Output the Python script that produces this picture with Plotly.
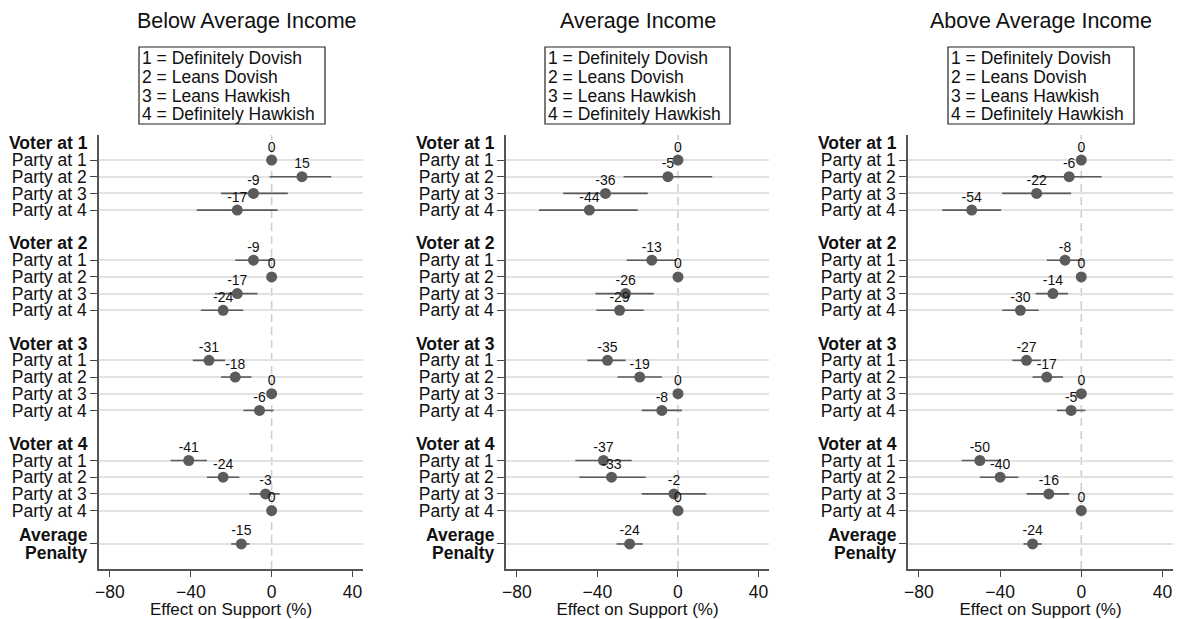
import plotly.graph_objects as go

# ---------------- data ----------------
panel_titles = ["Below Average Income", "Average Income", "Above Average Income"]
group_headers = ["Voter at 1", "Voter at 2", "Voter at 3", "Voter at 4"]
party_labels = ["Party at 1", "Party at 2", "Party at 3", "Party at 4"]
avg_label_lines = ["Average", "Penalty"]
key_lines = ["1 = Definitely Dovish", "2 = Leans Dovish", "3 = Leans Hawkish", "4 = Definitely Hawkish"]
x_ticks = [-80, -40, 0, 40]
x_title = "Effect on Support (%)"

# rows: V1P1..V1P4, V2P1..V2P4, V3P1..V3P4, V4P1..V4P4, Average
est_below = [0, 15, -9, -17, -9, 0, -17, -24, -31, -18, 0, -6, -41, -24, -3, 0, -15]
lo_below = [None, -1, -25, -37, -18, None, -28, -35, -39, -25, None, -14, -50, -32, -11, None, -20]
hi_below = [None, 29.5, 8, 3, 0.5, None, -7, -14, -23, -10, None, 1, -32, -16, 4, None, -11]

est_avg = [0, -5, -36, -44, -13, 0, -26, -29, -35, -19, 0, -8, -37, -33, -2, 0, -24]
lo_avg = [None, -27, -57, -69, -25.5, None, -41, -40.5, -45, -30, None, -18, -51, -49, -18, None, -30.5]
hi_avg = [None, 17, -15, -20, -0.5, None, -12, -17, -26, -8, None, 2, -23, -16, 14, None, -17.5]

est_above = [0, -6, -22, -54, -8, 0, -14, -30, -27, -17, 0, -5, -50, -40, -16, 0, -24]
lo_above = [None, -24, -39, -68.5, -17, None, -22.5, -39, -34, -24, None, -12, -59, -50, -27, None, -28.5]
hi_above = [None, 10, -5, -39.5, 1, None, -6.5, -21, -20, -9, None, 2, -40, -31, -6, None, -19.5]

panels = [(est_below, lo_below, hi_below), (est_avg, lo_avg, hi_avg), (est_above, lo_above, hi_above)]

# ---------------- layout helpers ----------------
W, H = 1180, 619
FONT = "Liberation Sans, Arial, Helvetica, sans-serif"
GRAY = "#5b5b5b"
LABEL_LIFT = 0.72  # label offset above marker, in row units

header_pos = [0, 6, 12, 18]
row_pos = []
for g in header_pos:
    row_pos += [g + 1, g + 2, g + 3, g + 4]
avg_pos = 24
row_pos.append(avg_pos)
tick_text = party_labels * 4 + [""]

x_domains = [(99, 363), (506, 769), (908, 1173)]
title_cx = [247, 637.5, 1041]
box_x = [(139, 325), (545, 730), (948, 1134)]
y_dom = (1 - 569 / H, 1 - 135 / H)

fig = go.Figure()
annotations = []
shapes = []

for i, (est, lo, hi) in enumerate(panels):
    sfx = "" if i == 0 else str(i + 1)
    xa, ya = "x" + sfx, "y" + sfx
    plus = [0 if h is None else h - e for e, h in zip(est, hi)]
    minus = [0 if l is None else e - l for e, l in zip(est, lo)]
    fig.add_trace(go.Scatter(
        x=est, y=row_pos, xaxis=xa, yaxis=ya, mode="markers",
        marker=dict(size=11, color=GRAY),
        error_x=dict(type="data", symmetric=False, array=plus, arrayminus=minus,
                     width=0, thickness=1.6, color=GRAY),
        cliponaxis=False, showlegend=False, hoverinfo="skip",
    ))
    fig.add_trace(go.Scatter(
        x=est, y=[r - LABEL_LIFT for r in row_pos], xaxis=xa, yaxis=ya, mode="text",
        text=[str(v) for v in est], textposition="middle center",
        textfont=dict(size=14, color="#111", family=FONT),
        cliponaxis=False, showlegend=False, hoverinfo="skip",
    ))
    d0, d1 = x_domains[i]
    fig.layout["xaxis" + sfx] = dict(
        domain=[d0 / W, d1 / W], anchor=ya, range=[-85.4, 45.2],
        tickvals=x_ticks, ticks="outside", ticklen=6, tickwidth=1.3, tickcolor="#444",
        showgrid=False, zeroline=False, showline=True, linecolor="#555", linewidth=1.6,
        tickfont=dict(size=17.5, family=FONT, color="#111"),
        title=dict(text=x_title, font=dict(size=17, family=FONT, color="#111"), standoff=2),
        automargin=False, fixedrange=True,
    )
    fig.layout["yaxis" + sfx] = dict(
        domain=list(y_dom), anchor=xa, range=[25.5, -0.5],
        tickvals=row_pos, ticktext=tick_text, ticks="outside", ticklen=7,
        tickwidth=1.3, tickcolor="#444",
        showgrid=True, gridcolor="#e2e2e2", gridwidth=1.5,
        zeroline=False, showline=True, linecolor="#555", linewidth=1.6,
        tickfont=dict(size=17.5, family=FONT, color="#111"),
        automargin=False, fixedrange=True,
    )
    # dashed reference line at zero
    shapes.append(dict(type="line", xref=xa, yref=ya + " domain", x0=0, x1=0, y0=0, y1=1,
                       line=dict(color="#cfcfcf", width=1.6, dash="8px,5px"), layer="below"))
    # group headers
    for g, txt in zip(header_pos, group_headers):
        annotations.append(dict(text="<b>" + txt + "</b>", xref=xa + " domain", yref=ya,
                                x=0, y=g, xanchor="right", yanchor="middle", xshift=-9,
                                showarrow=False, font=dict(size=17.5, family=FONT, color="#111")))
    # average penalty label (two tight lines)
    for k, txt in enumerate(avg_label_lines):
        annotations.append(dict(text="<b>" + txt + "</b>", xref=xa + " domain", yref=ya,
                                x=0, y=avg_pos, xanchor="right", yanchor="middle", xshift=-9,
                                yshift=9 - 18 * k, showarrow=False,
                                font=dict(size=17.5, family=FONT, color="#111")))
    # panel title
    annotations.append(dict(text=panel_titles[i], xref="paper", yref="paper",
                            x=title_cx[i] / W, y=1 - 21 / H, xanchor="center", yanchor="middle",
                            showarrow=False, font=dict(size=21.5, family=FONT, color="#111")))
    # key box
    bx0, bx1 = box_x[i]
    shapes.append(dict(type="rect", xref="paper", yref="paper",
                       x0=bx0 / W, x1=bx1 / W, y0=1 - 124 / H, y1=1 - 47 / H,
                       line=dict(color="#222", width=1.2), fillcolor="rgba(0,0,0,0)",
                       layer="above"))
    for j, line in enumerate(key_lines):
        annotations.append(dict(text=line, xref="paper", yref="paper",
                                x=(bx0 + 1) / W, y=1 - (57.5 + 19 * j) / H,
                                xanchor="left", yanchor="middle", showarrow=False,
                                font=dict(size=17.5, family=FONT, color="#111")))

fig.update_layout(
    width=W, height=H, margin=dict(l=0, r=0, t=0, b=0),
    paper_bgcolor="white", plot_bgcolor="white",
    annotations=annotations, shapes=shapes,
    font=dict(family=FONT, color="#111"),
)

fig.write_html("out.html")
